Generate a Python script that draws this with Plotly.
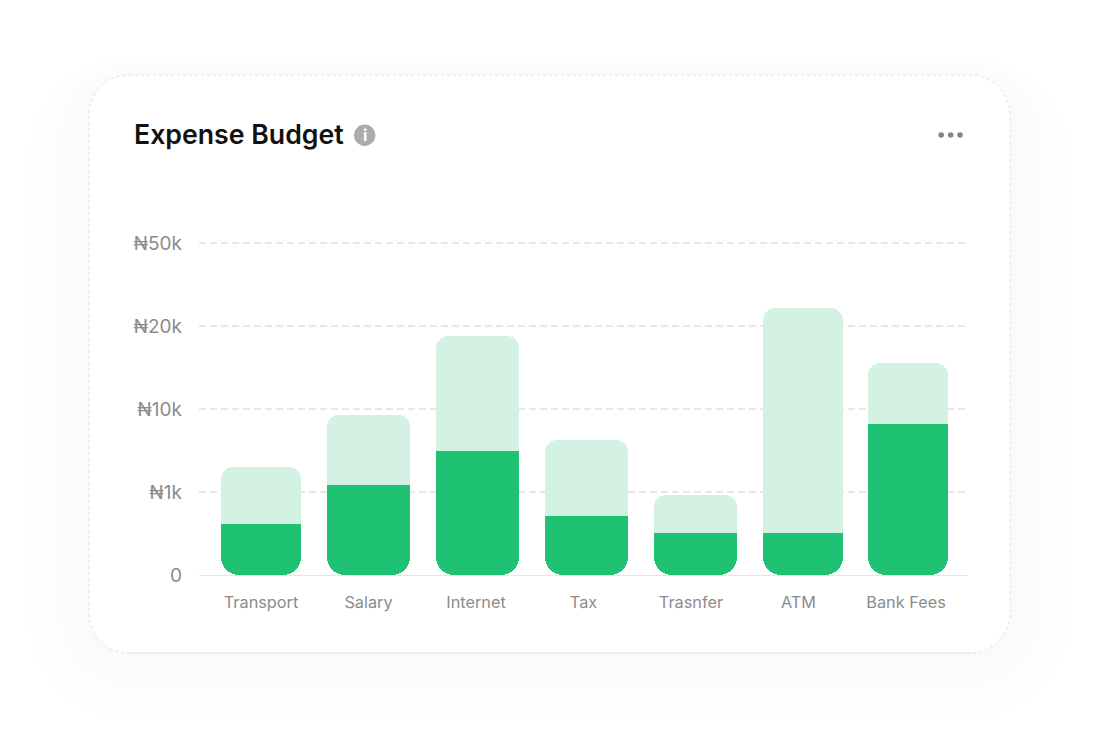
import plotly.graph_objects as go


# read in the data (heights are in axis steps, the axis is not linear)
categories = ['Transport', 'Salary', 'Internet', 'Tax', 'Trasnfer', 'ATM', 'Bank Fees']
spent = [0.614, 1.084, 1.494, 0.71, 0.506, 0.506, 1.82]
budget = [1.30, 1.93, 2.88, 1.627, 0.964, 3.217, 2.554]
y_ticks = [0, 1, 2, 3, 4]
y_labels = ['0', '₦1k', '₦10k', '₦20k', '₦50k']

WIDTH = 1097
HEIGHT = 754
GREEN = '#1fc173'
LIGHT = '#d3f2e3'
GREY = '#8c8c8c'
Y_TOP = 385 / 83

# bars sit a little off their labels in the original
bar_offset = [-0.372, -0.386, -0.372, -0.358, -0.344, -0.330, -0.353]
bar_width = [0.744, 0.772, 0.772, 0.772, 0.772, 0.744, 0.744]
radius = [12, 16, 16, 15, 15, 14, 14]
bottom_radius = [18, 24, 24, 23, 23, 21, 21]


def px_x(v):
    return v / WIDTH


def px_y(v):
    return 1 - v / HEIGHT


def rounded_rect(x0, y0, x1, y1, r):
    # rounded card outline in paper coordinates
    k = 0.45 * r
    pts = [
        f'M{px_x(x0 + r)},{px_y(y0)}',
        f'L{px_x(x1 - r)},{px_y(y0)}',
        f'C{px_x(x1 - k)},{px_y(y0)} {px_x(x1)},{px_y(y0 + k)} {px_x(x1)},{px_y(y0 + r)}',
        f'L{px_x(x1)},{px_y(y1 - r)}',
        f'C{px_x(x1)},{px_y(y1 - k)} {px_x(x1 - k)},{px_y(y1)} {px_x(x1 - r)},{px_y(y1)}',
        f'L{px_x(x0 + r)},{px_y(y1)}',
        f'C{px_x(x0 + k)},{px_y(y1)} {px_x(x0)},{px_y(y1 - k)} {px_x(x0)},{px_y(y1 - r)}',
        f'L{px_x(x0)},{px_y(y0 + r)}',
        f'C{px_x(x0)},{px_y(y0 + k)} {px_x(x0 + k)},{px_y(y0)} {px_x(x0 + r)},{px_y(y0)}',
        'Z',
    ]
    return ' '.join(pts)


def dot(cx, cy, r, color):
    return dict(
        type='circle', xref='paper', yref='paper', layer='above',
        x0=px_x(cx - r), x1=px_x(cx + r), y0=px_y(cy + r), y1=px_y(cy - r),
        fillcolor=color, line=dict(width=0),
    )


fig = go.Figure()

# only the outer end of a stack gets rounded, so each bar is a stack on its own axis:
# light part on y going up, dark part on y2 hanging down from the top of the plot
for i, name in enumerate(categories):
    common = dict(x=[i], offset=bar_offset[i], width=bar_width[i], showlegend=False, name=name)
    clear = dict(color='rgba(0,0,0,0)', line=dict(width=0))
    fig.add_trace(go.Bar(y=[spent[i]], marker=clear, hoverinfo='skip', **common))
    fig.add_trace(go.Bar(y=[budget[i] - spent[i]],
                         marker=dict(color=LIGHT, cornerradius=radius[i], line=dict(width=0)), **common))
    fig.add_trace(go.Bar(y=[spent[i] - Y_TOP], yaxis='y2', marker=clear, hoverinfo='skip', **common))
    fig.add_trace(go.Bar(y=[-spent[i]], yaxis='y2',
                         marker=dict(color=GREEN, cornerradius=bottom_radius[i], line=dict(width=0)), **common))

shapes = []
# soft shadow around the card, heavier below it
for grow, col in [(60, '#fefefe'), (45, '#fdfdfd'), (30, '#fcfcfc'), (15, '#fbfbfb'), (5, '#fafafa')]:
    shapes.append(dict(
        type='path', xref='paper', yref='paper', layer='below',
        path=rounded_rect(89 - grow, 75 - grow * 0.3, 1010 + grow, 653 + grow * 1.1, 40 + grow),
        fillcolor=col, line=dict(width=0),
    ))
shapes.append(dict(
    type='path', xref='paper', yref='paper', layer='below',
    path=rounded_rect(89, 75, 1010, 653, 40),
    fillcolor='white', line=dict(color='#e2e2e2', width=1, dash='dot'),
))
shapes.append(dict(
    type='line', xref='paper', yref='paper', layer='below',
    x0=px_x(127), x1=px_x(972), y0=px_y(653), y1=px_y(653),
    line=dict(color='#e4e4e4', width=1),
))
shapes.append(dot(364.7, 135.3, 10.7, '#acacac'))
for cx in [941.2, 950.7, 960]:
    shapes.append(dot(cx, 135, 2.8, '#868686'))

fig.update_layout(
    width=WIDTH,
    height=HEIGHT,
    margin=dict(l=0, r=0, t=0, b=0, autoexpand=False),
    barmode='stack',
    paper_bgcolor='white',
    plot_bgcolor='rgba(0,0,0,0)',
    font=dict(family='Inter', color=GREY),
    shapes=shapes,
    annotations=[
        dict(text='Expense Budget', xref='paper', yref='paper', showarrow=False,
             x=px_x(131.5), y=px_y(133.5), xanchor='left', yanchor='middle',
             font=dict(family='Inter', size=26.7, weight=600, color='#111111')),
        dict(text='<b>i</b>', xref='paper', yref='paper', showarrow=False,
             x=px_x(364.7), y=px_y(135.3), xanchor='center', yanchor='middle',
             font=dict(family='Inter', size=16, color='white')),
    ],
    xaxis=dict(
        domain=[px_x(199), px_x(968)],
        range=[-0.577, 6.577],
        tickvals=list(range(len(categories))),
        ticktext=categories,
        showgrid=False,
        zeroline=False,
        showline=False,
        ticks='',
        ticklabelstandoff=16,
        tickfont=dict(family='Inter', size=16.3, color=GREY),
    ),
    yaxis=dict(
        domain=[1 - 575 / HEIGHT, 1 - 190 / HEIGHT],
        range=[0, Y_TOP],
        tickvals=y_ticks,
        ticktext=y_labels,
        showgrid=True,
        gridcolor='#e8e8e8',
        griddash='7px,4px',
        gridwidth=1.5,
        zeroline=True,
        zerolinecolor='#e6e6e6',
        zerolinewidth=1,
        ticks='',
        ticklabelstandoff=16,
        tickfont=dict(family='Inter', size=19, color=GREY),
    ),
    yaxis2=dict(
        domain=[1 - 575 / HEIGHT, 1 - 190 / HEIGHT],
        range=[-Y_TOP, 0],
        overlaying='y',
        side='left',
        showgrid=False,
        zeroline=False,
        showticklabels=False,
        ticks='',
    ),
)

fig.write_html(
    'out.html',
    config={'displayModeBar': False},
    post_script="document.documentElement.style.overflow='hidden';document.body.style.margin='0'",
)
